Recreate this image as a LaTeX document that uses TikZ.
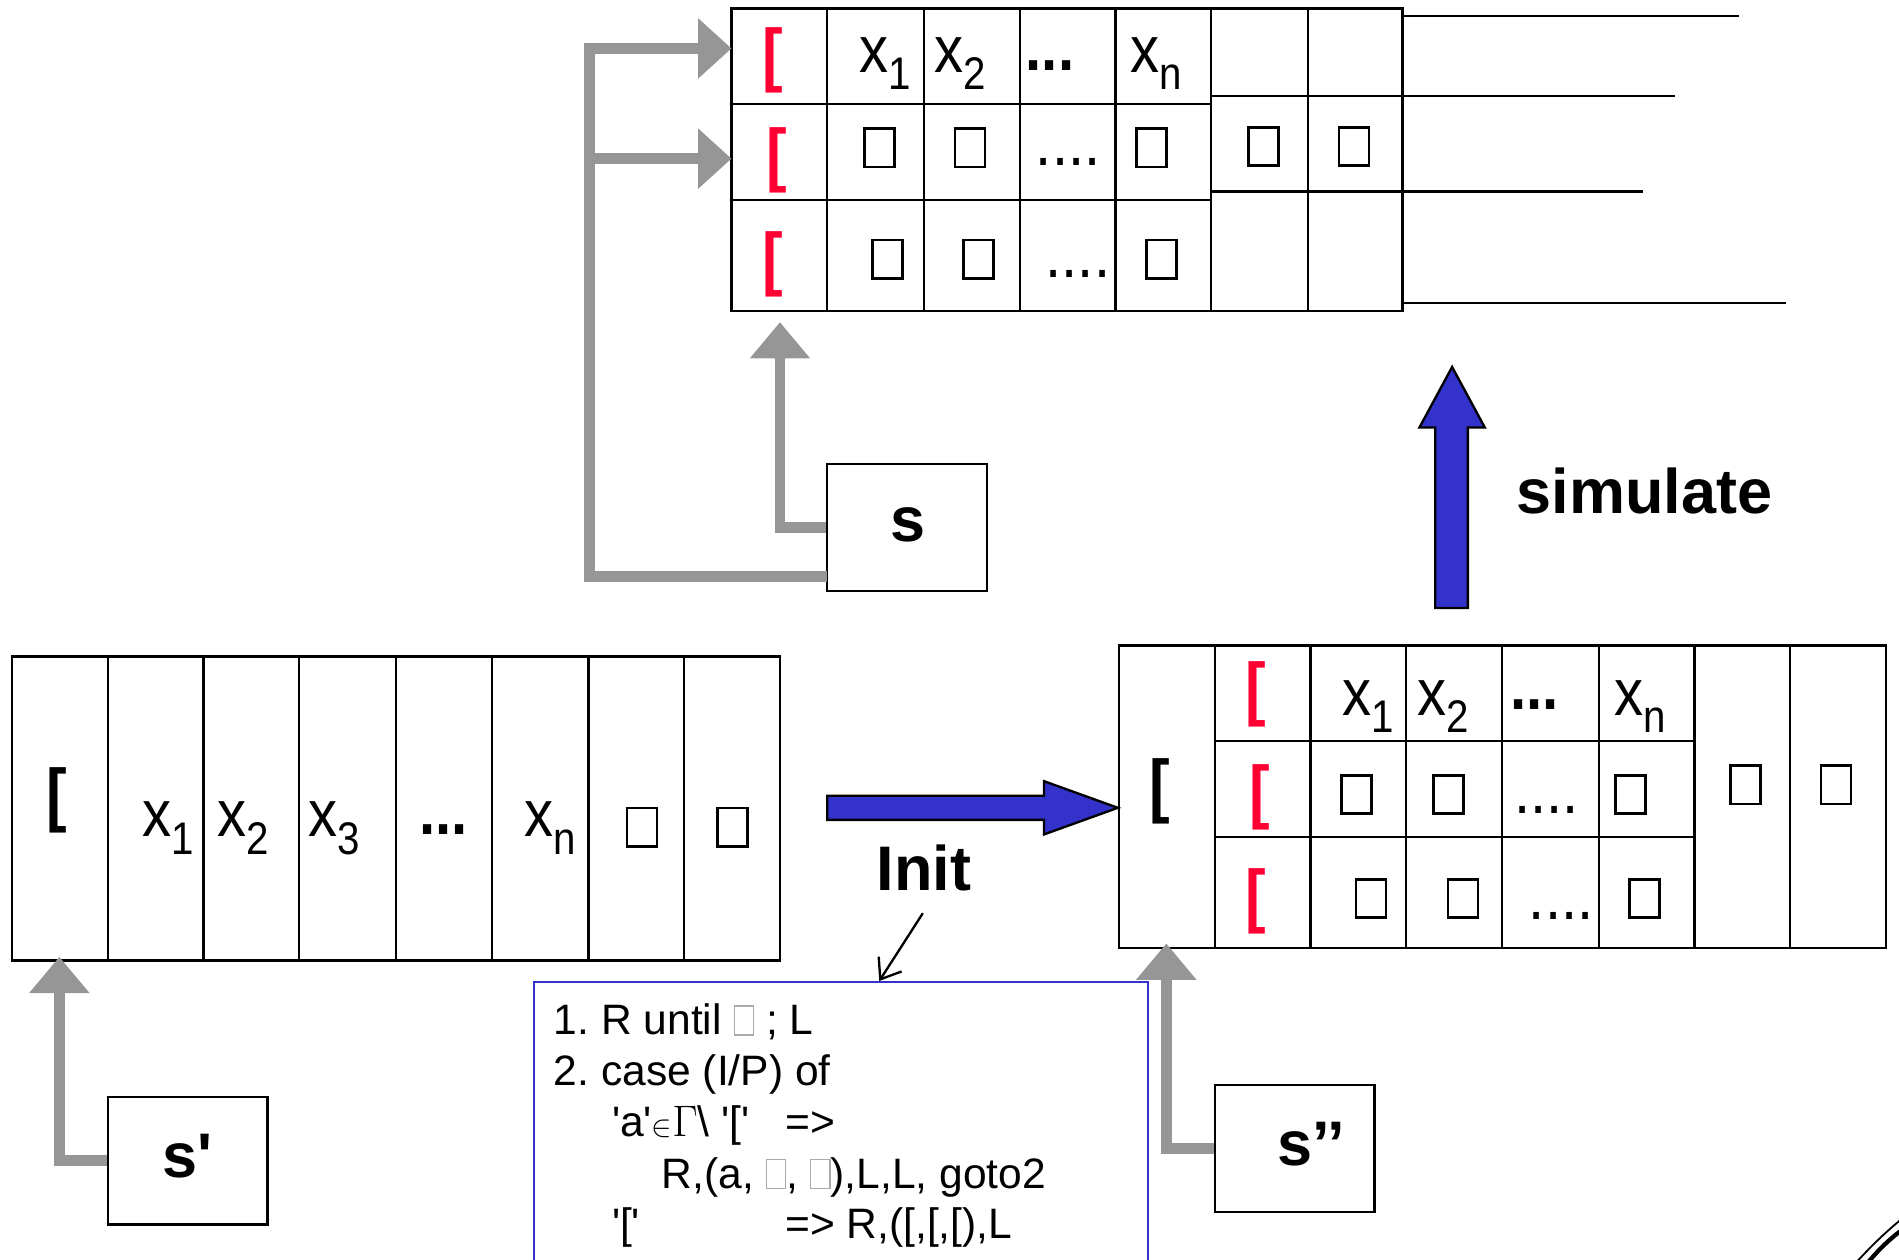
\documentclass[tikz,border=0pt]{standalone}
\usepackage{fontspec}
\usetikzlibrary{arrows.meta,fit,calc}
\setmainfont{Liberation Sans}
\newfontfamily\af{Liberation Sans}
\newfontfamily\tf[FakeStretch=0.88]{Liberation Sans}
\definecolor{bred}{RGB}{255,0,51}
\definecolor{ablue}{RGB}{51,51,204}
\definecolor{cgray}{RGB}{150,150,150}
\definecolor{lgray}{RGB}{170,170,170}
\frenchspacing
\newcommand\tapesz{\tf\fontsize{31pt}{31pt}\selectfont}
\newcommand\subd[1]{\raisebox{-0.26em}{\fontsize{21.5pt}{21.5pt}\selectfont #1}}
\newcommand\blk{{\setlength\fboxsep{0pt}\setlength\fboxrule{1.3pt}\fbox{\rule{0pt}{16.7pt}\hspace{12.8pt}}}}
\newcommand\gbx{{\color{lgray}\setlength\fboxsep{0pt}\setlength\fboxrule{0.6pt}\fbox{\rule{0pt}{13pt}\hspace{8.5pt}}}}
\tikzset{
 gridln/.style={line width=1.1pt},
 tapebox/.style={draw, line width=1.1pt, inner sep=0pt},
 tt/.style={inner sep=0pt, font=\tapesz, anchor=base},
 brk/.style={inner sep=0pt, font=\tf\bfseries\fontsize{33pt}{33pt}\selectfont},
 rbrk/.style={brk, text=bred},
 bx/.style={inner sep=0pt},
 stbox/.style={draw, line width=1.1pt, minimum width=2.64cm, minimum height=2.1cm, inner sep=0pt},
 lbl/.style={inner sep=0pt, font=\af\bfseries\fontsize{29.6pt}{29.6pt}\selectfont},
 gconn/.style={draw=cgray, line width=0.18cm, -{Triangle[length=0.6cm,width=0.96cm]}},
 gconnh/.style={draw=cgray, line width=0.18cm, -{Triangle[length=0.55cm,width=0.96cm]}},
 block/.style={fill=ablue, draw=black, line width=1.1pt, line join=miter},
 codeln/.style={inner sep=0pt, anchor=base west, font=\af\fontsize{20pt}{20pt}\selectfont},
 codebox/.style={draw=ablue, line width=1.2pt, inner sep=0pt},
 ann/.style={line width=1.1pt, -{Straight Barb[length=0.3cm,width=0.45cm]}},
}
\begin{document}
\begin{tikzpicture}[x=0.02cm,y=-0.02cm]
\useasboundingbox (0,0) rectangle (1568,1040);
\clip (0,0) rectangle (1568,1040);

% ---------- top grid ----------
\node[tapebox, fit={(604,7) (1158,257)}] (tg) {};
\foreach \x in {683,763,842,921,1000,1080} \draw[gridln] (\x,7) -- (\x,257);
\draw[gridln] (604,86) -- (1000,86) (604,165) -- (1000,165);
\draw[gridln] (1000,79) -- (1158,79) (1000,158) -- (1158,158);
\draw[gridln] (tg.north east |- 0,13) -- (1436,13);
\draw[gridln] (tg.east |- 0,79) -- (1383,79);
\draw[gridln] (tg.east |- 0,158) -- (1357,158);
\draw[gridln] (tg.east |- 0,250) -- (1475,250);
\node[rbrk] (tb1) at (638,50) {[};
\node[rbrk] (tb2) at (641,132) {[};
\node[rbrk] (tb3) at (638,218) {[};
\node[tt] (t11) at (731,60) {x\subd{1}};
\node[tt] (t12) at (793,60) {x\subd{2}};
\node[tt, font=\tapesz\bfseries] (t13) at (867,58) {...};
\node[tt] (t14) at (955,60) {x\subd{n}};
\node[bx] (t21) at (726,122) {\blk};
\node[bx] (t22) at (801,122) {\blk};
\node[tt] (t23) at (882,137) {....};
\node[bx] (t24) at (951,122) {\blk};
\node[bx] (t25) at (1043,121) {\blk};
\node[bx] (t26) at (1118,121) {\blk};
\node[bx] (t31) at (733,214) {\blk};
\node[bx] (t32) at (808,214) {\blk};
\node[tt] (t33) at (890,229) {....};
\node[bx] (t34) at (959,214) {\blk};

% ---------- left tape ----------
\node[tapebox, fit={(10,542) (644,793)}] (lt) {};
\foreach \x in {89,168,247,327,406,486,565} \draw[gridln] (\x,542) -- (\x,793);
\node[brk] (l0) at (47,661) {[};
\node[tt] (l1) at (139,691) {x\subd{1}};
\node[tt] (l2) at (201,691) {x\subd{2}};
\node[tt] (l3) at (276,691) {x\subd{3}};
\node[tt, font=\tapesz\bfseries] (l4) at (366,689) {...};
\node[tt] (l5) at (454,691) {x\subd{n}};
\node[bx] (l6) at (530,683) {\blk};
\node[bx] (l7) at (605,683) {\blk};

% ---------- right tape ----------
\node[tapebox, fit={(924,533) (1557,783)}] (rt) {};
\foreach \x in {1003,1082,1161,1240,1320,1399,1478} \draw[gridln] (\x,533) -- (\x,783);
\draw[gridln] (1003,612) -- (1399,612) (1003,691) -- (1399,691);
\node[brk] (r0) at (958,653) {[};
\node[rbrk] (rb1) at (1037,573) {[};
\node[rbrk] (rb2) at (1040,658) {[};
\node[rbrk] (rb3) at (1037,744) {[};
\node[tt] (r11) at (1130,591) {x\subd{1}};
\node[tt] (r12) at (1192,591) {x\subd{2}};
\node[tt, font=\tapesz\bfseries] (r13) at (1267,586) {...};
\node[tt] (r14) at (1354,591) {x\subd{n}};
\node[bx] (r21) at (1120,656) {\blk};
\node[bx] (r22) at (1196,656) {\blk};
\node[tt] (r23) at (1277,672) {....};
\node[bx] (r24) at (1346,656) {\blk};
\node[bx] (r31) at (1132,742) {\blk};
\node[bx] (r32) at (1208,742) {\blk};
\node[tt] (r33) at (1289,759) {....};
\node[bx] (r34) at (1358,742) {\blk};
\node[bx] (r7) at (1441,648) {\blk};
\node[bx] (r8) at (1516,648) {\blk};

% ---------- state boxes ----------
\node[stbox] (s) at (749,435.5) {};
\node[lbl] (slbl) at (750,433) {s};
\node[stbox] (s1) at (155,958.5) {};
\node[lbl] (s1lbl) at (155,955) {s'};
\node[stbox] (s2) at (1069,948.5) {};
\node[lbl] (s2lbl) at (1083,945) {s’’};

% ---------- gray head connectors ----------
\coordinate (tgIn1) at (604,40);
\coordinate (tgIn2) at (604,131);
\coordinate (tgIn3) at (644,266);
\coordinate (sLow) at (683,476);
\coordinate (bend) at (487,131);
\draw[gconn] (s.west) -| (tgIn3);
\draw[gconnh, line join=miter] (sLow) -| (487,40) -- (tgIn1);
\draw[gconnh] (bend) -- (tgIn2);
\coordinate (ltIn) at (49,790);
\draw[gconn] (s1.west) -| (ltIn);
\coordinate (rtIn) at (963,779);
\draw[gconn] (s2.west) -| (rtIn);

% ---------- blue block arrows ----------
\draw[block] (683,657) -- (862,657) -- (862,645) -- (rt.west |- 0,667) -- (862,689) -- (862,677) -- (683,677) -- cycle;
\draw[block] (1185,502) -- (1185,353) -- (1172,353) -- (1199,303) -- (1226,353) -- (1212,353) -- (1212,502) -- cycle;
\node[lbl, anchor=base] (init) at (763,735) {Init};
\node[lbl, anchor=base west] (sim) at (1252,424) {simulate};

% ---------- code box ----------
\node[codebox, fit={(441,811) (948,1120)}] (code) {};
\coordinate (annS) at (762,754);
\coordinate (annE) at (726,810);
\draw[ann] (annS) -- (annE);
\node[codeln] (c1) at (457,854) {1. R until \gbx{} ; L};
\node[codeln] (c2) at (457,896) {2. case (I/P) of};
\node[codeln] (c3) at (505,938) {'a'{\fontsize{15pt}{15pt}\selectfont$\in$}$\Gamma$\textbackslash\ '['};
\node[codeln] (c3b) at (648,938) {=>};
\node[codeln] (c4) at (546,981) {R,(a, \gbx{}, \gbx{}),L,L, goto2};
\node[codeln] (c5) at (505,1023) {'['};
\node[codeln] (c5b) at (648,1023) {=> R,([,[,[),L};

% ---------- corner curl ----------
\draw[line width=0.07cm] (1541,1044) .. controls (1551,1032) and (1561,1022) .. (1574,1013);
\draw[line width=0.03cm] (1533,1042) .. controls (1545,1029) and (1556,1018) .. (1572,1005);
\end{tikzpicture}
\end{document}
